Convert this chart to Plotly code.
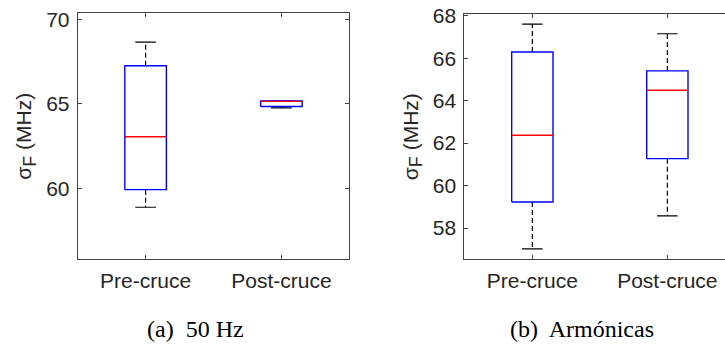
import plotly.graph_objects as go

# ---- data ----
categories = ["Pre-cruce", "Post-cruce"]

# Panel (a) 50 Hz
a_lower = [58.88, 64.76]
a_q1 = [59.92, 64.84]
a_median = [63.05, 65.14]
a_q3 = [67.25, 65.16]
a_upper = [68.64, 65.16]

# Panel (b) Armónicas
b_lower = [57.02, 58.57]
b_q1 = [59.23, 61.27]
b_median = [62.37, 64.49]
b_q3 = [66.29, 65.40]
b_upper = [67.60, 67.15]

captions = ["(a)\u00a0 50 Hz", "(b)\u00a0 Armónicas"]
ytitle = "σ<sub><span style='font-size:18px'>F</span></sub> (MHz)"

# ---- style ----
BOX_HW = 0.153
CAP_HW = 0.076
BLUE = "#0000ff"
RED = "#ff0000"
WHISK = "#000000"
AXC = "#404040"
TXT = "#262626"
FONT = "Liberation Sans, Arial, sans-serif"
SERIF = "Liberation Serif, Times New Roman, serif"

fig = go.Figure()


def add_panel(lower, q1, med, q3, upper, xa, ya):
    pos = list(range(1, len(categories) + 1))
    # whiskers (dashed)
    wx, wy = [], []
    for c, lo, a, b, up in zip(pos, lower, q1, q3, upper):
        wx += [c, c, None, c, c, None]
        wy += [b, up, None, a, lo, None]
    fig.add_trace(go.Scatter(x=wx, y=wy, mode="lines", xaxis=xa, yaxis=ya,
                             line=dict(color=WHISK, width=1.2, dash="5px,3px"),
                             hoverinfo="skip", showlegend=False))
    # caps
    cx, cy = [], []
    for c, lo, up in zip(pos, lower, upper):
        cx += [c - CAP_HW, c + CAP_HW, None, c - CAP_HW, c + CAP_HW, None]
        cy += [up, up, None, lo, lo, None]
    fig.add_trace(go.Scatter(x=cx, y=cy, mode="lines", xaxis=xa, yaxis=ya,
                             line=dict(color=WHISK, width=1.2),
                             hoverinfo="skip", showlegend=False))
    # boxes
    bx, by = [], []
    for c, a, b in zip(pos, q1, q3):
        bx += [c - BOX_HW, c + BOX_HW, c + BOX_HW, c - BOX_HW, c - BOX_HW, None]
        by += [a, a, b, b, a, None]
    fig.add_trace(go.Scatter(x=bx, y=by, mode="lines", xaxis=xa, yaxis=ya,
                             line=dict(color=BLUE, width=1.4),
                             hoverinfo="skip", showlegend=False))
    # medians
    mx, my = [], []
    for c, m in zip(pos, med):
        mx += [c - BOX_HW, c + BOX_HW, None]
        my += [m, m, None]
    fig.add_trace(go.Scatter(x=mx, y=my, mode="lines", xaxis=xa, yaxis=ya,
                             line=dict(color=RED, width=1.4),
                             hoverinfo="skip", showlegend=False))


add_panel(a_lower, a_q1, a_median, a_q3, a_upper, "x", "y")
add_panel(b_lower, b_q1, b_median, b_q3, b_upper, "x2", "y2")

W, H = 725, 345

common_x = dict(tickvals=[1, 2], ticktext=categories, ticks="inside", ticklen=4,
                tickcolor=AXC, showline=True, linecolor=AXC, linewidth=1,
                showgrid=False, zeroline=False, ticklabelstandoff=2,
                automargin=False,
                tickfont=dict(family=FONT, size=21, color=TXT))
common_y = dict(ticks="inside", ticklen=4, tickcolor=AXC, showline=True,
                linecolor=AXC, linewidth=1, showgrid=False, zeroline=False,
                ticklabelstandoff=3, automargin=False,
                tickfont=dict(family=FONT, size=21, color=TXT),
                title=dict(text=ytitle, font=dict(family=FONT, size=21, color=TXT),
                           standoff=8))

fig.update_layout(
    width=W, height=H,
    margin=dict(l=0, r=0, t=0, b=0, autoexpand=False),
    paper_bgcolor="white", plot_bgcolor="white",
    showlegend=False,
    xaxis=dict(common_x, domain=[77.7 / W, 349.3 / W], range=[0.5, 2.5],
               mirror="ticks", anchor="y"),
    yaxis=dict(common_y, domain=[(H - 259.3) / H, (H - 13.3) / H],
               range=[55.8, 70.35], tickvals=[60, 65, 70], mirror="ticks",
               anchor="x"),
    xaxis2=dict(common_x, domain=[464.3 / W, 1.0], range=[0.496, 2.427],
                mirror="ticks", anchor="y2"),
    yaxis2=dict(common_y, domain=[(H - 259.3) / H, (H - 14.0) / H],
                range=[56.53, 68.08], tickvals=[58, 60, 62, 64, 66, 68],
                mirror=False, anchor="x2"),
    annotations=[
        dict(text=captions[0], x=195.5 / W, y=(H - 329) / H, xref="paper", yref="paper",
             showarrow=False, xanchor="center", yanchor="middle",
             font=dict(family=SERIF, size=24, color="#000")),
        dict(text=captions[1], x=582 / W, y=(H - 329) / H, xref="paper", yref="paper",
             showarrow=False, xanchor="center", yanchor="middle",
             font=dict(family=SERIF, size=24, color="#000")),
    ],
)

fig.write_html("out.html", config={"displayModeBar": False},
               post_script="document.body.style.margin='0';document.body.style.overflow='hidden';")
